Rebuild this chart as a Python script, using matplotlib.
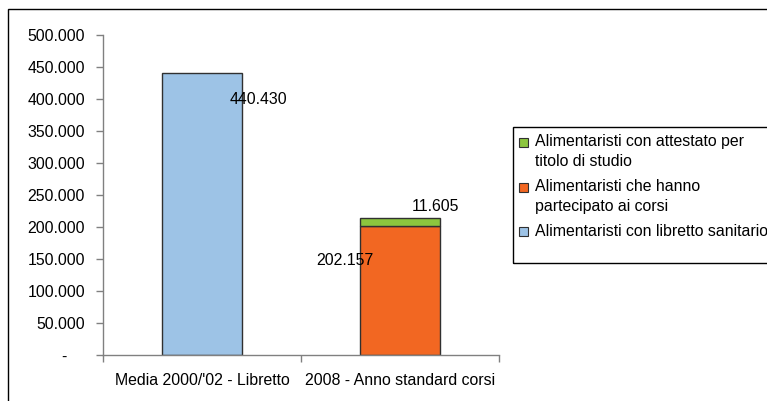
import matplotlib
matplotlib.use("Agg")
import matplotlib.pyplot as plt
from matplotlib.patches import Rectangle
import numpy as np

plt.rcParams['font.family'] = ['Liberation Sans', 'DejaVu Sans']

# ---- data ----
categories = ["Media 2000/'02 - Libretto", "2008 - Anno standard corsi"]
libretto = [440430, 0]          # Alimentaristi con libretto sanitario
corsi = [0, 202157]             # Alimentaristi che hanno partecipato ai corsi
attestato = [0, 11605]          # Alimentaristi con attestato per titolo di studio
yticks = [0, 50000, 100000, 150000, 200000, 250000, 300000, 350000, 400000, 450000, 500000]
legend_labels = ["Alimentaristi con attestato per\ntitolo di studio",
                 "Alimentaristi che hanno\npartecipato ai corsi",
                 "Alimentaristi con libretto sanitario"]

# ---- style ----
c_blue = '#9DC3E6'
c_orange = '#F26722'
c_green = '#8CC63E'
edge = '#303030'
fs = 11.4

W, H = 767, 401
fig = plt.figure(figsize=(W / 100, H / 100), dpi=100)
ax = fig.add_axes([103 / W, 1 - 355 / H, 396 / W, 320 / H])

x = np.arange(len(categories))
bw = 0.40
lib = np.array(libretto, float)
cor = np.array(corsi, float)
att = np.array(attestato, float)
ax.bar(x[0], lib[0], bw, color=c_blue, edgecolor=edge, linewidth=1)
ax.bar(x[1], cor[1], bw, color=c_orange, edgecolor=edge, linewidth=1)
ax.bar(x[1], att[1], bw, bottom=cor[1], color=c_green, edgecolor=edge, linewidth=1)

def fmt(v):
    return f"{int(v):,}".replace(",", ".")

# data labels (positions as Excel placed them)
ax.text(x[0] + 0.283, lib[0] * 0.908, fmt(lib[0]), ha='center', va='center', fontsize=fs)
ax.text(x[1] - 0.278, cor[1] * 0.727, fmt(cor[1]), ha='center', va='center', fontsize=fs)
ax.text(x[1] + 0.18, cor[1] + att[1] + 19000, fmt(att[1]), ha='center', va='center', fontsize=fs)

ax.set_xlim(-0.5, len(categories) - 0.5)
ax.set_ylim(0, 500000)
ax.set_yticks(yticks)
ax.set_yticklabels(["-    " if v == 0 else fmt(v) for v in yticks], fontsize=fs)
ax.set_xticks(np.arange(-0.5, len(categories)), labels=[])
ax.set_xticks(x, labels=categories, minor=True, fontsize=fs)
ax.tick_params(axis='x', which='major', length=5, direction='out', color='#808080', width=1)
ax.tick_params(axis='x', which='minor', length=0, pad=13)
ax.tick_params(axis='y', length=5, direction='out', color='#808080', width=1, pad=8)
for s in ['top', 'right']:
    ax.spines[s].set_visible(False)
for s in ['left', 'bottom']:
    ax.spines[s].set_color('#808080')
    ax.spines[s].set_linewidth(1)

# outer chart frame
fig.patches.append(Rectangle((8 / W, -0.1), 2, 1 - 9 / H + 0.1, transform=fig.transFigure,
                             fill=False, edgecolor='black', linewidth=1))

# legend (manual, frame + entries)
fig.patches.append(Rectangle((513 / W, 1 - 263 / H), 2, 136 / H, transform=fig.transFigure,
                             fill=False, edgecolor='black', linewidth=1))
leg_colors = [c_green, c_orange, c_blue]
first_line_y = [141.7, 186.7, 231.0]
for lab, col, y0 in zip(legend_labels, leg_colors, first_line_y):
    fig.patches.append(Rectangle((519 / W, 1 - (y0 + 5) / H), 9 / W, 9 / H,
                                 transform=fig.transFigure, facecolor=col,
                                 edgecolor='#303030', linewidth=0.8))
    for k, line in enumerate(lab.split('\n')):
        fig.text(535 / W, 1 - (y0 + 20 * k) / H, line, ha='left', va='center', fontsize=fs)

fig.savefig('out.png', dpi=100)
